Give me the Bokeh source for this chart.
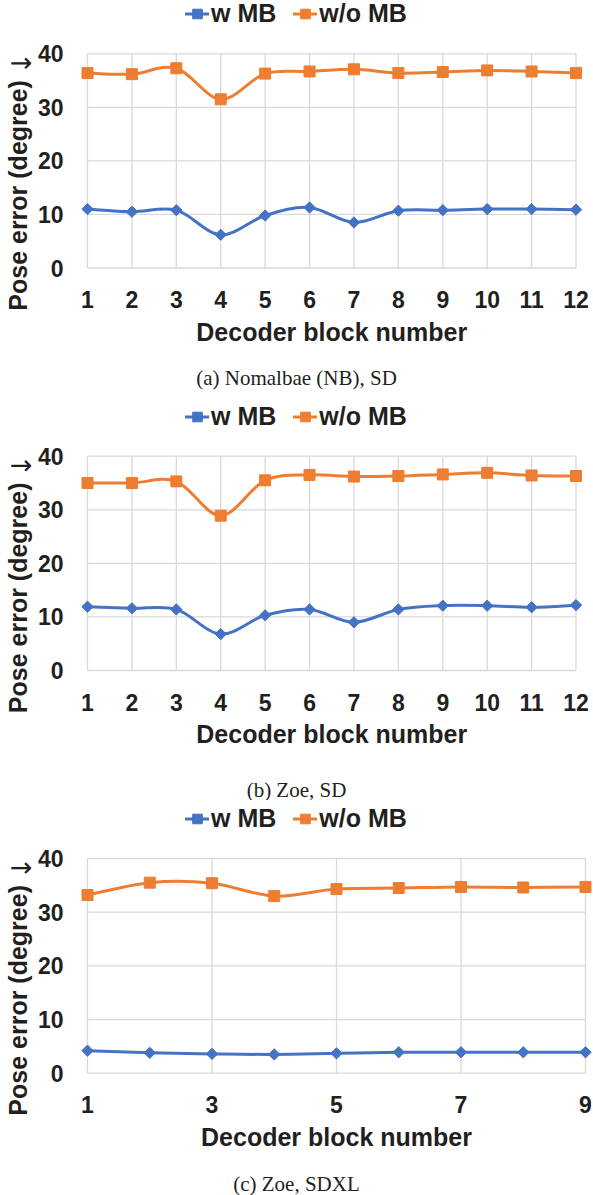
import numpy as np
from bokeh.plotting import figure
from bokeh.models import Range1d, Label, Legend, LegendItem
from bokeh.core.properties import value
from bokeh.layouts import column
from bokeh.embed import file_html
from bokeh.resources import INLINE

# ---------------- data ----------------
blocks_12 = [1, 2, 3, 4, 5, 6, 7, 8, 9, 10, 11, 12]
blocks_9 = [1, 2, 3, 4, 5, 6, 7, 8, 9]
xticks_12 = [1, 2, 3, 4, 5, 6, 7, 8, 9, 10, 11, 12]
xticks_9 = [1, 3, 5, 7, 9]
yticks = [0, 10, 20, 30, 40]

nb_sd_w = [11.0, 10.5, 10.8, 6.2, 9.8, 11.3, 8.5, 10.7, 10.8, 11.0, 11.0, 10.9]
nb_sd_wo = [36.4, 36.2, 37.3, 31.5, 36.3, 36.7, 37.1, 36.4, 36.6, 36.9, 36.7, 36.4]

zoe_sd_w = [11.9, 11.6, 11.4, 6.8, 10.3, 11.4, 9.0, 11.4, 12.1, 12.1, 11.8, 12.2]
zoe_sd_wo = [35.0, 35.0, 35.3, 28.9, 35.5, 36.5, 36.2, 36.3, 36.6, 36.9, 36.4, 36.3]

zoe_sdxl_w = [4.2, 3.8, 3.6, 3.5, 3.7, 3.9, 3.9, 3.9, 3.9]
zoe_sdxl_wo = [33.2, 35.5, 35.4, 33.0, 34.3, 34.5, 34.7, 34.6, 34.7]

series_names = ["w MB", "w/o MB"]
captions = ["(a) Nomalbae (NB), SD", "(b) Zoe, SD", "(c) Zoe, SDXL"]
x_title = "Decoder block number"
y_title = "Pose error (degree)"
y_arrow = "\u2193"

BLUE = "#4472C4"
ORANGE = "#ED7D31"
GRID = "#D9D9D9"
TEXT = "#231F20"
SANS = "Liberation Sans"
SERIF = "Liberation Serif"
W = 593


def smooth_segments(x, y):
    """Excel-like smoothed line: cubic Bezier control points from neighbours."""
    x = np.asarray(x, float)
    y = np.asarray(y, float)
    n = len(x)
    xp = np.concatenate([[x[0]], x, [x[-1]]])
    yp = np.concatenate([[y[0]], y, [y[-1]]])
    cx0 = x[:-1] + (xp[2:n + 1] - xp[0:n - 1]) / 6.0
    cy0 = y[:-1] + (yp[2:n + 1] - yp[0:n - 1]) / 6.0
    cx1 = x[1:] - (xp[3:n + 2] - xp[1:n]) / 6.0
    cy1 = y[1:] - (yp[3:n + 2] - yp[1:n]) / 6.0
    return dict(x0=x[:-1], y0=y[:-1], x1=x[1:], y1=y[1:],
                cx0=cx0, cy0=cy0, cx1=cx1, cy1=cy1)


def panel(h, blocks, xticks, w_vals, wo_vals, caption,
          x1px, xNpx, ytop, ybot, legend_cy, title_off, caption_off):
    # the frame covers the whole canvas; data ranges are set so that
    # block 1 / last block sit at x1px / xNpx and 0 / 40 at ybot / ytop
    ppu = (xNpx - x1px) / (blocks[-1] - blocks[0])
    ypu = (ybot - ytop) / 40.0
    xs = blocks[0] - x1px / ppu
    xe = blocks[-1] + (W - xNpx) / ppu
    ys = -(h - ybot) / ypu
    ye = 40 + ytop / ypu
    p = figure(width=W, height=h, output_backend="svg", toolbar_location=None,
               x_range=Range1d(xs, xe), y_range=Range1d(ys, ye),
               x_axis_location=None, y_axis_location=None,
               min_border=0, min_border_left=0, min_border_right=0,
               min_border_top=0, min_border_bottom=0)
    p.outline_line_color = None
    p.background_fill_color = "white"
    p.border_fill_color = "white"
    p.grid.visible = False

    # gridlines (plot area spans first to last block, 0 to 40)
    p.segment(x0=xticks, y0=[yticks[0]] * len(xticks), x1=xticks, y1=[yticks[-1]] * len(xticks),
              line_color=GRID, line_width=1.3)
    p.segment(x0=[blocks[0]] * len(yticks), y0=yticks, x1=[blocks[-1]] * len(yticks), y1=yticks,
              line_color=GRID, line_width=1.3)

    # tick labels
    p.text(x=[blocks[0]] * len(yticks), y=yticks, text=[str(t) for t in yticks],
           x_offset=-24, text_align="right", text_baseline="middle",
           text_font=value(SANS), text_font_style="bold", text_font_size="23px",
           text_color=TEXT)
    p.text(x=xticks, y=[0] * len(xticks), text=[str(t) for t in xticks],
           y_offset=31.5, text_align="center", text_baseline="middle",
           text_font=value(SANS), text_font_style="bold", text_font_size="23px",
           text_color=TEXT)

    renderers = []
    for vals, color, size, angle in ((w_vals, BLUE, 8, np.pi / 4),
                                     (wo_vals, ORANGE, 11, 0.0)):
        seg = smooth_segments(blocks, vals)
        r_line = p.bezier(line_color=color, line_width=3, line_cap="round", **seg)
        r_pts = p.scatter(blocks, vals, marker="square", size=size, angle=angle,
                          fill_color=color, line_color=color)
        renderers.append([r_line, r_pts])

    # legend above the plot area (location = bottom-left corner, from canvas bottom)
    legend = Legend(items=[LegendItem(label=series_names[0], renderers=renderers[0]),
                           LegendItem(label=series_names[1], renderers=renderers[1])],
                    location=(185, h - (legend_cy + 12.5)),
                    orientation="horizontal", padding=0, margin=0, spacing=17,
                    glyph_width=24, glyph_height=25, label_height=25, label_standoff=2,
                    label_text_font=SANS, label_text_font_style="bold",
                    label_text_font_size="25px", label_text_color=TEXT,
                    label_text_baseline="middle",
                    border_line_color=None, background_fill_alpha=0)
    p.add_layout(legend)

    # axis titles and caption
    p.add_layout(Label(x=blocks[0], y=20, x_offset=17 - x1px, y_offset=-34.5,
                       angle=np.pi / 2,
                       text=y_title, text_align="center", text_baseline="middle",
                       text_font=SANS, text_font_style="bold", text_font_size="25px",
                       text_color=TEXT))
    p.add_layout(Label(x=blocks[0], y=40, x_offset=21 - x1px, y_offset=-9.5,
                       angle=np.pi / 2,
                       text=y_arrow, text_align="center", text_baseline="middle",
                       text_font="DejaVu Sans", text_font_size="27px", text_color=TEXT))
    p.add_layout(Label(x=(blocks[0] + blocks[-1]) / 2, y=0, y_offset=-title_off,
                       text=x_title, text_align="center", text_baseline="middle",
                       text_font=SANS, text_font_style="bold", text_font_size="25px",
                       text_color=TEXT))
    p.add_layout(Label(x=blocks[0], y=0, x_offset=296 - x1px, y_offset=-caption_off,
                       text=caption, text_align="center", text_baseline="middle",
                       text_font=SERIF, text_font_size="21px", text_color=TEXT))
    return p


p1 = panel(400, blocks_12, xticks_12, nb_sd_w, nb_sd_wo, captions[0],
           87, 575.5, 53.3, 267.5, 15.5, 63.5, 109.5)
p2 = panel(400, blocks_12, xticks_12, zoe_sd_w, zoe_sd_wo, captions[1],
           87, 575.5, 55.7, 270.0, 18.0, 63.5, 119.0)
p3 = panel(395, blocks_9, xticks_9, zoe_sdxl_w, zoe_sdxl_wo, captions[2],
           87, 585.0, 58.0, 272.7, 20.7, 64.0, 110.3)

layout = column(p1, p2, p3, spacing=0)
open("out.html", "w").write(file_html(layout, INLINE))
